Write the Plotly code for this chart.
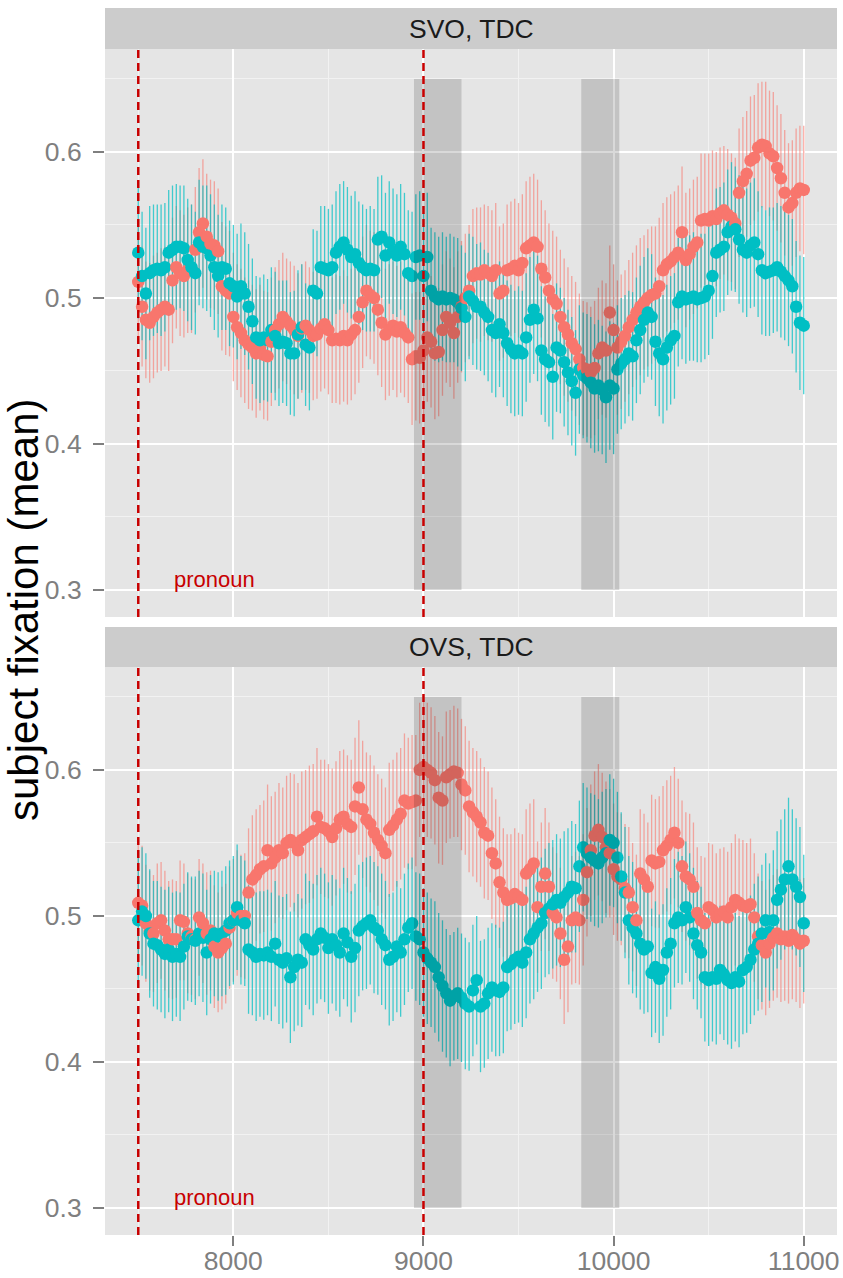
import plotly.graph_objects as go

# ---------------- data ----------------
time_ms = list(range(7500, 11001, 20))  # sampling grid, 20 ms

panel_titles = ["SVO, TDC", "OVS, TDC"]
region_starts = [8950, 9830]
region_ends = [9200, 10030]
region_low, region_high = 0.3, 0.65
event_times = [7500, 9000]
event_label = "pronoun"
event_label_x, event_label_y = 7900, 0.3075
y_ticks = [0.3, 0.4, 0.5, 0.6]
y_ticklabels = ["0.3", "0.4", "0.5", "0.6"]
y_minor = [0.35, 0.45, 0.55, 0.65]
x_ticks = [8000, 9000, 10000, 11000]
x_ticklabels = ["8000", "9000", "10000", "11000"]
x_minor = [7500, 8500, 9500, 10500]
y_title = "subject fixation (mean)"

# SVO, TDC  (salmon group)
svo_red = [
    .511, .494, .485, .483, .487,  .490, .492, .494, .492, .512,
    .521, .517, .515, .519, .520,  .533, .545, .551, .542, .537,
    .536, .532, .508, .505, .503,  .487, .480, .476, .471, .468,
    .466, .462, .466, .461, .460,  .470, .478, .482, .487, .484,
    .481, .478, .474, .479, .481,  .478, .474, .475, .479, .482,
    .478, .471, .472, .471, .474,  .471, .475, .478, .487, .497,
    .505, .502, .500, .492, .483,  .475, .478, .481, .477, .480,
    .476, .473, .458, .460, .459,  .464, .473, .470, .462, .463,
    .478, .487, .483, .476, .487,  .494, .500, .505, .515, .517,
    .516, .519, .517, .515, .519,  .503, .505, .519, .520, .522,
    .519, .524, .534, .536, .538,  .535, .520, .514, .505, .499,
    .496, .487, .480, .475, .469,  .465, .458, .452, .451, .449,
    .452, .462, .466, .464, .490,  .478, .466, .470, .474, .480,
    .485, .490, .494, .497, .500,  .502, .503, .508, .519, .523,
    .525, .528, .531, .545, .526,  .530, .535, .538, .553, .554,
    .553, .556, .554, .558, .560,  .557, .555, .551, .572, .580,
    .585, .594, .596, .603, .605,  .604, .599, .597, .589, .582,
    .572, .562, .565, .572, .575,  .574,
]
svo_red_ci = [
    .040, .041, .040, .041, .042,  .041, .042, .041, .042, .043,
    .042, .043, .042, .043, .044,  .043, .044, .044, .043, .044,
    .044, .043, .044, .044, .043,  .044, .043, .044, .043, .044,
    .043, .044, .043, .044, .044,  .044, .043, .044, .044, .043,
    .044, .044, .043, .044, .044,  .043, .044, .044, .043, .044,
    .044, .043, .044, .044, .045,  .044, .045, .044, .045, .045,
    .045, .044, .045, .045, .044,  .045, .045, .044, .045, .045,
    .044, .045, .045, .044, .045,  .045, .044, .045, .045, .044,
    .045, .045, .044, .045, .045,  .045, .044, .045, .046, .045,
    .046, .045, .046, .045, .046,  .046, .046, .045, .046, .046,
    .046, .047, .046, .047, .047,  .046, .047, .046, .046, .047,
    .046, .046, .047, .046, .046,  .046, .045, .046, .046, .045,
    .046, .045, .046, .046, .046,  .045, .046, .046, .045, .046,
    .046, .046, .047, .046, .047,  .047, .046, .047, .046, .046,
    .046, .045, .046, .045, .046,  .045, .046, .045, .046, .045,
    .046, .045, .046, .045, .044,  .045, .044, .045, .044, .044,
    .043, .044, .043, .044, .043,  .044, .043, .044, .043, .044,
    .043, .044, .043, .044, .043,  .044,
]
# SVO, TDC  (teal group)
svo_blue = [
    .531, .515, .503, .517, .519,  .520, .519, .521, .531, .533,
    .535, .535, .534, .526, .521,  .517, .538, .535, .534, .529,
    .521, .515, .521, .520, .510,  .508, .501, .508, .503, .494,
    .484, .473, .471, .473, .471,  .478, .474, .469, .470, .469,
    .462, .462, .475, .480, .468,  .466, .505, .503, .521, .520,
    .519, .521, .531, .535, .538,  .533, .528, .530, .524, .521,
    .519, .520, .519, .540, .542,  .529, .538, .532, .529, .535,
    .530, .517, .515, .528, .529,  .515, .528, .505, .501, .499,
    .501, .499, .500, .499, .497,  .493, .487, .501, .498, .494,
    .494, .490, .487, .478, .476,  .482, .476, .469, .465, .462,
    .464, .462, .473, .485, .492,  .486, .464, .458, .456, .446,
    .466, .464, .456, .449, .443,  .435, .451, .447, .445, .442,
    .438, .440, .437, .432, .440,  .438, .451, .455, .458, .462,
    .460, .471, .478, .485, .490,  .487, .470, .462, .458, .466,
    .471, .474, .497, .501, .499,  .500, .501, .499, .500, .501,
    .505, .515, .531, .533, .535,  .545, .549, .547, .540, .533,
    .531, .536, .538, .530, .519,  .517, .518, .519, .521, .518,
    .515, .512, .508, .494, .483,  .481,
]
svo_blue_ci = [
    .045, .044, .045, .046, .045,  .044, .045, .044, .043, .044,
    .043, .042, .043, .042, .043,  .042, .043, .042, .043, .042,
    .043, .042, .043, .042, .043,  .042, .043, .043, .042, .043,
    .043, .042, .043, .043, .042,  .043, .044, .043, .042, .043,
    .042, .043, .044, .043, .042,  .043, .042, .043, .042, .043,
    .042, .043, .042, .043, .042,  .043, .042, .043, .042, .043,
    .042, .043, .042, .043, .042,  .043, .042, .043, .042, .043,
    .042, .043, .044, .043, .044,  .043, .044, .043, .044, .043,
    .044, .043, .044, .043, .044,  .043, .044, .043, .044, .043,
    .044, .043, .044, .043, .044,  .043, .044, .043, .044, .043,
    .044, .043, .044, .043, .044,  .043, .044, .043, .044, .043,
    .044, .043, .044, .043, .044,  .043, .044, .043, .044, .045,
    .044, .045, .044, .045, .044,  .045, .044, .045, .044, .043,
    .044, .043, .044, .043, .044,  .043, .044, .043, .044, .043,
    .044, .043, .044, .043, .044,  .043, .044, .043, .044, .043,
    .044, .043, .044, .043, .044,  .043, .044, .043, .044, .043,
    .044, .043, .044, .043, .044,  .043, .044, .043, .044, .045,
    .044, .045, .046, .045, .046,  .047,
]
# OVS, TDC  (salmon group)
ovs_red = [
    .509, .507, .495, .490, .488,  .495, .497, .490, .484, .484,
    .484, .497, .496, .488, .486,  .484, .499, .495, .488, .490,
    .479, .475, .478, .481, .492,  .497, .502, .500, .500, .516,
    .525, .528, .532, .534, .545,  .536, .540, .545, .543, .550,
    .552, .550, .545, .552, .554,  .556, .558, .568, .561, .560,
    .558, .554, .560, .566, .568,  .563, .561, .575, .588, .573,
    .566, .563, .557, .552, .548,  .543, .559, .562, .566, .570,
    .579, .577, .578, .579, .600,  .602, .600, .598, .593, .581,
    .579, .595, .597, .599, .598,  .590, .586, .575, .571, .568,
    .564, .557, .555, .543, .536,  .523, .516, .511, .512, .515,
    .513, .511, .529, .532, .536,  .506, .520, .529, .520, .502,
    .499, .488, .470, .479, .497,  .499, .497, .511, .530, .545,
    .555, .559, .554, .547, .543,  .532, .527, .525, .519, .516,
    .506, .497, .529, .525, .520,  .538, .536, .537, .545, .548,
    .552, .557, .550, .534, .527,  .525, .520, .502, .497, .495,
    .506, .504, .499, .501, .503,  .499, .506, .511, .509, .507,
    .506, .508, .499, .486, .480,  .475, .481, .485, .488, .484,
    .486, .483, .487, .484, .481,  .483,
]
ovs_red_ci = [
    .040, .041, .040, .041, .040,  .041, .040, .041, .040, .041,
    .040, .041, .040, .041, .040,  .041, .040, .041, .042, .041,
    .042, .041, .042, .041, .042,  .042, .043, .042, .043, .044,
    .044, .045, .044, .045, .045,  .046, .045, .046, .045, .046,
    .046, .047, .046, .047, .046,  .047, .046, .047, .046, .047,
    .046, .047, .046, .047, .046,  .047, .046, .047, .046, .047,
    .046, .047, .046, .045, .046,  .045, .046, .045, .046, .045,
    .046, .045, .046, .045, .046,  .045, .046, .045, .044, .045,
    .044, .045, .044, .045, .044,  .045, .044, .045, .044, .045,
    .044, .045, .044, .045, .044,  .045, .044, .045, .044, .045,
    .044, .045, .044, .045, .044,  .045, .044, .045, .044, .045,
    .044, .045, .044, .045, .044,  .045, .044, .045, .044, .045,
    .044, .045, .044, .045, .044,  .045, .044, .045, .044, .045,
    .044, .045, .044, .045, .044,  .045, .044, .045, .044, .045,
    .044, .045, .044, .045, .044,  .045, .044, .045, .044, .045,
    .044, .045, .044, .045, .044,  .045, .044, .045, .044, .045,
    .044, .045, .044, .043, .044,  .043, .044, .043, .044, .043,
    .044, .043, .044, .043, .044,  .043,
]
# OVS, TDC  (teal group)
ovs_blue = [
    .497, .503, .500, .488, .481,  .480, .477, .474, .477, .472,
    .474, .472, .479, .486, .484,  .483, .488, .485, .475, .484,
    .488, .486, .488, .490, .495,  .497, .506, .497, .495, .477,
    .475, .472, .474, .473, .475,  .472, .481, .470, .468, .471,
    .458, .465, .470, .468, .484,  .480, .477, .484, .488, .485,
    .478, .484, .480, .475, .488,  .482, .472, .478, .490, .493,
    .495, .497, .492, .490, .484,  .480, .470, .472, .479, .475,
    .484, .492, .495, .486, .484,  .475, .471, .468, .465, .458,
    .452, .447, .442, .445, .447,  .444, .440, .438, .449, .456,
    .438, .440, .447, .451, .449,  .448, .451, .465, .467, .470,
    .472, .468, .475, .484, .488,  .492, .495, .502, .505, .508,
    .511, .509, .513, .516, .520,  .519, .534, .547, .543, .540,
    .538, .536, .540, .543, .552,  .550, .540, .527, .516, .497,
    .492, .488, .481, .477, .479,  .461, .465, .457, .463, .475,
    .481, .495, .499, .497, .506,  .499, .488, .480, .475, .458,
    .456, .458, .457, .463, .460,  .456, .454, .458, .455, .463,
    .465, .470, .477, .481, .488,  .497, .489, .497, .511, .518,
    .525, .534, .525, .520, .513,  .495,
]
ovs_blue_ci = [
    .043, .044, .043, .044, .043,  .044, .043, .044, .043, .044,
    .043, .044, .043, .044, .043,  .044, .043, .044, .043, .044,
    .043, .044, .043, .044, .043,  .044, .043, .044, .043, .044,
    .043, .044, .043, .044, .043,  .044, .043, .044, .045, .044,
    .045, .044, .045, .044, .045,  .044, .045, .044, .045, .044,
    .045, .044, .045, .044, .045,  .044, .045, .044, .045, .044,
    .045, .044, .045, .044, .045,  .044, .045, .044, .045, .044,
    .045, .044, .045, .044, .045,  .044, .045, .044, .045, .044,
    .045, .044, .045, .044, .045,  .044, .045, .044, .045, .044,
    .045, .044, .045, .044, .045,  .044, .045, .044, .045, .044,
    .045, .044, .045, .044, .045,  .044, .045, .044, .045, .044,
    .045, .044, .045, .044, .045,  .044, .045, .044, .045, .044,
    .045, .044, .045, .044, .045,  .044, .045, .044, .045, .044,
    .045, .044, .045, .044, .045,  .044, .045, .044, .045, .044,
    .045, .044, .045, .044, .045,  .044, .045, .044, .045, .044,
    .045, .044, .045, .044, .045,  .044, .045, .044, .045, .044,
    .045, .044, .045, .046, .047,  .046, .047, .048, .047, .048,
    .048, .047, .048, .047, .048,  .047,
]

for arr in (svo_red, svo_red_ci, svo_blue, svo_blue_ci, ovs_red, ovs_red_ci, ovs_blue, ovs_blue_ci):
    assert len(arr) == len(time_ms), len(arr)

# ---------------- styling ----------------
RED = "#F8766D"
BLUE = "#00BFC4"
RED_BAR = "rgba(248,118,109,0.6)"
BLUE_BAR = "rgba(0,191,196,0.72)"
EVENT = "#C80000"
FONT = "Liberation Sans, Arial, sans-serif"
W, H = 843, 1278

px_left, px_right = 105, 837
panels_px = [(49, 617), (667, 1235)]   # (top, bottom) in pixels
strips_px = [(8, 49), (627, 667)]

def py(p):
    return 1 - p / H

x_dom = [px_left / W, px_right / W]
x_range = [7325, 11175]
y_range = [0.2815, 0.6705]

fig = go.Figure()
series = [(svo_red, svo_red_ci, svo_blue, svo_blue_ci),
          (ovs_red, ovs_red_ci, ovs_blue, ovs_blue_ci)]

for i, (red, red_ci, blue, blue_ci) in enumerate(series):
    xa = "x" if i == 0 else "x2"
    ya = "y" if i == 0 else "y2"
    for vals, ci, col in ((red, red_ci, RED_BAR), (blue, blue_ci, BLUE_BAR)):
        fig.add_trace(go.Scatter(
            x=time_ms, y=vals, mode="markers",
            marker=dict(size=1, color="rgba(0,0,0,0)"),
            error_y=dict(type="data", array=ci, symmetric=True, color=col,
                         thickness=1.3, width=0),
            xaxis=xa, yaxis=ya, showlegend=False, hoverinfo="skip"))
    xs, ys, cs = [], [], []
    for t, r, b in zip(time_ms, red, blue):
        xs += [t, t]
        ys += [r, b]
        cs += [RED, BLUE]
    fig.add_trace(go.Scatter(
        x=xs, y=ys, mode="markers",
        marker=dict(size=12.5, color=cs, line=dict(width=0)),
        xaxis=xa, yaxis=ya, showlegend=False, hoverinfo="skip"))

shapes = []
annotations = []
for i in range(2):
    xr = "x" if i == 0 else "x2"
    yr = "y" if i == 0 else "y2"
    st, sb = strips_px[i]
    shapes.append(dict(type="rect", xref="paper", yref="paper",
                       x0=x_dom[0], x1=x_dom[1], y0=py(sb), y1=py(st),
                       fillcolor="#CCCCCC", line=dict(width=0), layer="below"))
    annotations.append(dict(text=panel_titles[i], xref="paper", yref="paper",
                            x=(x_dom[0] + x_dom[1]) / 2, y=py((st + sb) / 2),
                            xanchor="center", yanchor="middle", showarrow=False,
                            font=dict(family=FONT, size=26.5, color="#1A1A1A")))
    for a, b in zip(region_starts, region_ends):
        shapes.append(dict(type="rect", xref=xr, yref=yr, x0=a, x1=b,
                           y0=region_low, y1=region_high,
                           fillcolor="rgba(0,0,0,0.15)", line=dict(width=0),
                           layer="above"))
    for t in event_times:
        shapes.append(dict(type="line", xref=xr, yref=yr + " domain",
                           x0=t, x1=t, y0=0, y1=1,
                           line=dict(color=EVENT, width=2.5, dash="8px,5px"),
                           layer="above"))
    annotations.append(dict(text=event_label, xref=xr, yref=yr,
                            x=event_label_x, y=event_label_y,
                            xanchor="center", yanchor="middle", showarrow=False,
                            font=dict(family=FONT, size=22, color=EVENT)))

annotations.append(dict(text=y_title, xref="paper", yref="paper",
                        x=23 / W, y=py(610), textangle=-90,
                        xanchor="center", yanchor="middle", showarrow=False,
                        font=dict(family=FONT, size=42, color="black")))

common_x = dict(range=x_range, domain=x_dom, tickvals=x_ticks, ticktext=x_ticklabels,
                showgrid=True, gridcolor="white", gridwidth=2, zeroline=False,
                showline=False, automargin=False,
                minor=dict(tickvals=x_minor, showgrid=True, gridcolor="#F2F2F2",
                           gridwidth=1, ticks=""))
common_y = dict(range=y_range, tickvals=y_ticks, ticktext=y_ticklabels,
                showgrid=True, gridcolor="white", gridwidth=2, zeroline=False,
                showline=False, automargin=False, ticks="outside", ticklen=11,
                tickwidth=2, tickcolor="#7F7F7F", ticklabelstandoff=6,
                tickfont=dict(family=FONT, size=26.5, color="#7F7F7F"),
                minor=dict(tickvals=y_minor, showgrid=True, gridcolor="#F2F2F2",
                           gridwidth=1, ticks=""))

fig.update_layout(
    width=W, height=H,
    margin=dict(l=0, r=0, t=0, b=0, autoexpand=False),
    paper_bgcolor="white", plot_bgcolor="#E5E5E5",
    showlegend=False,
    xaxis=dict(**common_x, anchor="y", showticklabels=False, ticks=""),
    xaxis2=dict(**common_x, anchor="y2", showticklabels=True, ticks="outside",
                ticklen=10, tickwidth=2, tickcolor="#7F7F7F", ticklabelstandoff=-8,
                tickfont=dict(family=FONT, size=26.5, color="#7F7F7F")),
    yaxis=dict(**common_y, anchor="x", domain=[py(panels_px[0][1]), py(panels_px[0][0])]),
    yaxis2=dict(**common_y, anchor="x2", domain=[py(panels_px[1][1]), py(panels_px[1][0])]),
    shapes=shapes, annotations=annotations,
)

fig.write_html("out.html")
